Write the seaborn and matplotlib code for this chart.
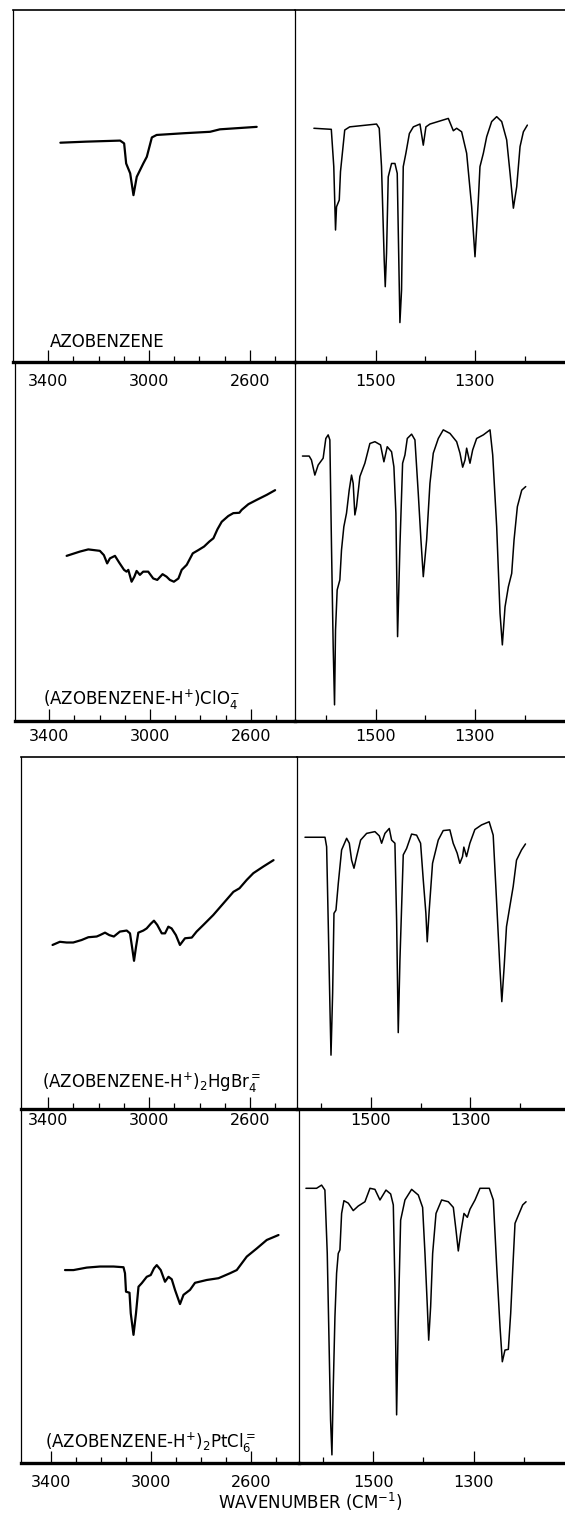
# IR spectra of azobenzene and its protonated salts (two spectral windows each)

import numpy as np
import pandas as pd
import matplotlib
matplotlib.use('Agg')
import matplotlib.pyplot as plt
import seaborn as sns

# ---------------- data (wavenumber, % transmittance) ----------------
names = ["AZOBENZENE",
         r"(AZOBENZENE-H$^{+}$)ClO$_{4}^{-}$",
         r"(AZOBENZENE-H$^{+}$)$_{2}$HgBr$_{4}^{=}$",
         r"(AZOBENZENE-H$^{+}$)$_{2}$PtCl$_{6}^{=}$"]

# panel 1 : azobenzene
azo_hi_wn = [3352, 3250, 3115, 3099, 3091, 3075, 3062, 3049, 3023, 3009, 2989, 2970, 2860, 2758, 2719, 2573]
azo_hi_t = [62.3, 62.6, 62.9, 62.1, 56.4, 53.6, 47.4, 52.6, 56.4, 58.3, 63.8, 64.5, 65.0, 65.4, 66.1, 66.8]
azo_lo_wn = [1624, 1589, 1584, 1580.5, 1578.5, 1573, 1570.5, 1562, 1552, 1498, 1492.6, 1488, 1482.6, 1480.5,
             1477.9, 1474.5, 1467.8, 1461, 1456.4, 1451, 1447.7, 1444.3, 1439, 1432, 1424, 1410.7, 1404,
             1398.7, 1390.6, 1353.7, 1343.6, 1336.9, 1326.9, 1316.8, 1306.7, 1300, 1293.3, 1290, 1283.2,
             1276.5, 1266.5, 1256.4, 1246.3, 1236.3, 1229.5, 1222.8, 1216.1, 1209.4, 1202.7, 1194.7]
azo_lo_t = [66.4, 66.1, 55.5, 37.5, 44.1, 46.0, 54.1, 65.9, 66.8, 67.6, 66.4, 55.5, 29.0, 21.4,
            30.9, 52.6, 56.4, 56.4, 53.6, 11.2, 20.5, 55.5, 59.3, 64.9, 66.8, 67.6, 61.6,
            66.8, 67.6, 69.2, 65.7, 66.4, 65.4, 59.3, 44.1, 29.9, 46.0, 55.5, 59.3,
            64.0, 68.3, 69.7, 68.3, 63.1, 53.6, 43.7, 49.8, 61.2, 65.4, 67.3]

# panel 2 : perchlorate
clo4_hi_wn = [3331, 3278, 3245, 3199, 3183, 3170, 3159, 3139, 3122, 3103, 3093, 3086, 3073, 3062, 3053,
              3040, 3027, 3007, 2987, 2971, 2950, 2934, 2921, 2905, 2887, 2874, 2854, 2830, 2808, 2785,
              2764, 2748, 2732, 2715, 2689, 2669, 2645, 2636, 2609, 2576, 2536, 2503]
clo4_hi_t = [46.0, 47.2, 47.8, 47.4, 46.2, 43.9, 45.3, 46.0, 44.1, 42.1, 41.6, 42.1, 38.8, 40.2, 41.8,
             40.7, 41.6, 41.6, 39.7, 39.3, 40.9, 40.2, 39.3, 38.8, 39.7, 42.1, 43.5, 46.7, 47.6, 48.6,
             50.0, 50.9, 53.4, 55.5, 57.1, 57.9, 58.0, 58.8, 60.4, 61.6, 63.0, 64.3]
clo4_lo_wn = [1647, 1633.5, 1628.9, 1622.1, 1615.4, 1605.4, 1600, 1595.3, 1591.9, 1588.6, 1585.2, 1582.5,
              1580.5, 1577.2, 1571.8, 1568.5, 1563.8, 1558.4, 1553, 1548.3, 1545, 1541.6, 1538.3, 1531.5,
              1521.5, 1511.4, 1501.3, 1490, 1483.2, 1476.5, 1467.8, 1463.1, 1459.1, 1455.7, 1451, 1445.6,
              1440.9, 1436.2, 1427.5, 1420.8, 1414.1, 1408.7, 1404, 1397.3, 1390.6, 1383.9, 1373.8, 1363.8,
              1350.3, 1336.9, 1330.2, 1324.8, 1320.1, 1316.8, 1310.1, 1304.7, 1296.7, 1283.2, 1269.8, 1264.4,
              1256.4, 1249.7, 1245, 1239.6, 1232.9, 1226.2, 1221.5, 1214.8, 1206, 1198]
clo4_lo_t = [73.8, 73.8, 72.7, 68.5, 71.3, 73.2, 78.7, 79.7, 78.3, 48.6, 20.7, 4.5,
             25.3, 36.5, 39.3, 47.6, 54.1, 57.9, 64.3, 68.5, 66.2, 57.4, 59.7, 68.1,
             71.8, 77.3, 77.8, 76.9, 72.2, 76.4, 75.0, 70.8, 57.9, 23.5, 48.6, 71.8,
             74.1, 78.7, 79.9, 78.3, 63.4, 50.4, 40.2, 50.4, 66.2, 74.6, 78.7, 81.1,
             80.1, 77.8, 74.6, 70.7, 72.7, 76.0, 71.8, 75.5, 78.7, 79.7, 81.1, 74.1,
             54.1, 30.0, 21.2, 31.8, 37.4, 41.1, 50.4, 59.7, 64.3, 65.3]

# panel 3 : tetrabromomercurate
hgbr_hi_wn = [3383, 3354, 3327, 3301, 3268, 3241, 3208, 3195, 3175, 3158, 3140, 3116, 3089, 3076, 3068,
              3060, 3052, 3043, 3023, 3010, 2994, 2981, 2968, 2950, 2937, 2924, 2911, 2894, 2878, 2858,
              2831, 2812, 2785, 2746, 2706, 2666, 2642, 2613, 2587, 2547, 2507]
hgbr_hi_t = [46.6, 47.5, 47.3, 47.3, 48.0, 48.8, 49.0, 49.4, 50.1, 49.4, 49.0, 50.4, 50.7, 49.9, 46.1,
             42.1, 46.1, 50.1, 50.7, 51.3, 52.6, 53.5, 52.3, 49.9, 49.9, 51.8, 51.3, 49.4, 46.6, 48.5,
             48.7, 50.4, 52.3, 55.1, 58.4, 61.7, 62.7, 65.1, 67.0, 68.9, 70.7]
hgbr_lo_wn = [1632.9, 1592.6, 1589.3, 1585.9, 1582.5, 1580.5, 1577.2, 1574.5, 1570.5, 1565.8, 1559.1, 1549,
              1543.6, 1539, 1534.2, 1528.9, 1520.8, 1508.7, 1492, 1483.2, 1478.5, 1471.8, 1463.1, 1458.4,
              1451.7, 1448.3, 1445, 1441.6, 1434.9, 1428.2, 1418.1, 1408, 1400, 1394.6, 1389.3, 1386.6,
              1382.6, 1375.9, 1364.4, 1354.4, 1341, 1334.3, 1326.3, 1320.9, 1315.5, 1312.8, 1307.4, 1300.7,
              1290.6, 1277.2, 1261.8, 1253.7, 1247, 1240.3, 1236.3, 1231.6, 1226.9, 1220.2, 1213.4, 1206.7,
              1196.6, 1188.6]
hgbr_lo_t = [77.2, 77.2, 74.5, 51.8, 28.1, 15.3, 32.9, 55.6, 56.5, 64.1, 73.6, 76.9,
             75.5, 70.7, 68.4, 71.7, 76.4, 78.3, 78.8, 77.6, 75.5, 78.3, 79.7, 76.4,
             75.5, 53.7, 21.7, 42.3, 72.2, 74.0, 78.1, 77.8, 75.5, 65.1, 55.6, 47.5,
             56.5, 69.8, 76.4, 79.1, 79.3, 75.5, 72.7, 69.8, 71.7, 74.4, 71.7, 75.5,
             79.4, 80.7, 81.6, 77.8, 59.4, 40.4, 30.5, 40.4, 51.8, 57.5, 63.2, 70.7,
             73.6, 75.3]

# panel 4 : hexachloroplatinate
ptcl_hi_wn = [3343, 3309, 3256, 3203, 3149, 3109, 3103, 3099, 3085, 3080, 3069, 3059, 3049, 3036, 3016,
              3000, 2987, 2976, 2960, 2943, 2929, 2916, 2903, 2883, 2869, 2843, 2823, 2776, 2729, 2683,
              2656, 2616, 2576, 2536, 2489]
ptcl_hi_t = [54.5, 54.5, 55.2, 55.5, 55.5, 55.3, 53.6, 48.4, 48.1, 42.3, 36.2, 42.3, 49.8, 50.8, 52.6,
             53.1, 55.0, 55.9, 54.5, 51.2, 52.6, 51.9, 48.9, 44.9, 47.5, 48.9, 50.9, 51.7, 52.2, 53.6,
             54.5, 58.3, 60.6, 63.0, 64.4]
ptcl_lo_wn = [1634.2, 1613, 1603, 1596.4, 1591.7, 1587.7, 1585.1, 1582.4, 1579.7, 1576.4, 1573.1, 1569.8,
              1566.5, 1563.1, 1558.5, 1549.8, 1539.9, 1529.9, 1516.6, 1506.6, 1496.7, 1486.7, 1474.7, 1465.4,
              1460.1, 1456.8, 1453.5, 1450.2, 1445.5, 1436.9, 1423.6, 1410.3, 1401.7, 1397, 1392.3, 1389.6,
              1385.7, 1381.7, 1375, 1363.8, 1350.5, 1340.5, 1335.2, 1330.6, 1325.9, 1319.3, 1312.6, 1307.3,
              1297.3, 1287.4, 1268.8, 1260.8, 1254.1, 1247.5, 1242.9, 1237.6, 1230.9, 1226.2, 1222.2, 1217.6,
              1210.9, 1202.3, 1195.6]
ptcl_lo_t = [77.6, 77.6, 78.5, 77.1, 59.2, 31.0, 12.1, 2.3, 21.6, 41.3, 53.6, 59.2,
             60.2, 70.5, 74.1, 73.4, 71.3, 72.6, 73.8, 77.6, 77.3, 74.3, 77.1, 76.0,
             72.9, 49.8, 13.6, 40.4, 68.6, 74.3, 77.3, 75.7, 72.2, 59.2, 44.2, 34.7,
             44.2, 59.2, 70.5, 74.3, 73.8, 72.2, 65.8, 59.9, 64.9, 70.5, 69.4, 71.7,
             74.3, 77.6, 77.6, 74.3, 55.5, 38.5, 28.6, 31.9, 32.1, 42.3, 54.5, 67.7,
             70.0, 72.9, 73.8]

hi_major = [3400, 3000, 2600]
hi_minor = [3300, 3200, 3100, 2900, 2800, 2700, 2500]
lo_major = [1500, 1300]
lo_minor = [1600, 1400, 1200]

spectra = [(azo_hi_wn, azo_hi_t, azo_lo_wn, azo_lo_t),
           (clo4_hi_wn, clo4_hi_t, clo4_lo_wn, clo4_lo_t),
           (hgbr_hi_wn, hgbr_hi_t, hgbr_lo_wn, hgbr_lo_t),
           (ptcl_hi_wn, ptcl_hi_t, ptcl_lo_wn, ptcl_lo_t)]

# ---------------- layout (pixel positions of the scanned frames) ----------------
W, H = 565, 1513
layout = [
    dict(top=10, bot=362, left=13, mid=295, lx=(3540, 2421), rx=(1662, 1119), frame=True, pad=12,
         lab=(0.131, 0.043)),
    dict(top=362, bot=721, left=15, mid=295, lx=(3536, 2424), rx=(1662, 1119), frame=False, pad=8,
         lab=(0.10, 0.045)),
    dict(top=757, bot=1109, left=21, mid=297, lx=(3508, 2414), rx=(1649, 1109), frame=True, pad=4,
         lab=(0.076, 0.06)),
    dict(top=1109, bot=1463, left=21, mid=299, lx=(3519, 2407), rx=(1648, 1118), frame=False, pad=12,
         lab=(0.086, 0.042)),
]

sns.set_theme(style='white')
plt.rcParams['font.family'] = ['DejaVu Sans']
plt.rcParams['mathtext.fontset'] = 'dejavusans'

fig = plt.figure(figsize=(W / 100, H / 100), dpi=100)


def box(x0, x1, ytop, ybot):
    return [x0 / W, 1 - ybot / H, (x1 - x0) / W, (ybot - ytop) / H]


def style_axis(ax, xlim, major, minor, pad, frame, left_spine, right_spine):
    ax.set_xlim(*xlim)
    ax.set_ylim(0, 100)
    ax.set_yticks([])
    ax.set_xticks(major)
    ax.set_xticks(minor, minor=True)
    ax.set_xticklabels([str(v) for v in major], fontsize=11.5, color='black')
    ax.tick_params(axis='x', which='both', direction='in', color='black', width=0.9, bottom=True)
    ax.tick_params(axis='x', which='major', length=8.5, pad=pad / 1.39)
    ax.tick_params(axis='x', which='minor', length=4.0)
    ax.set_xlabel('')
    ax.set_ylabel('')
    ax.patch.set_alpha(0)
    for s in ax.spines.values():
        s.set_color('black')
    ax.spines['bottom'].set_linewidth(2.4)
    ax.spines['top'].set_visible(frame)
    ax.spines['top'].set_linewidth(1.2)
    ax.spines['left'].set_visible(left_spine)
    ax.spines['left'].set_linewidth(0.9)
    ax.spines['right'].set_visible(right_spine)
    ax.spines['right'].set_linewidth(0.9)


for i, (cfg, (hw, ht, lw_, lt)) in enumerate(zip(layout, spectra)):
    ax_hi = fig.add_axes(box(cfg['left'], cfg['mid'], cfg['top'], cfg['bot']))
    ax_lo = fig.add_axes(box(cfg['mid'], W, cfg['top'], cfg['bot']))

    df_hi = pd.DataFrame({'wn': hw, 't': ht})
    df_lo = pd.DataFrame({'wn': lw_, 't': lt})
    sns.lineplot(data=df_hi, x='wn', y='t', ax=ax_hi, color='black', lw=1.6,
                 estimator=None, sort=False)
    sns.lineplot(data=df_lo, x='wn', y='t', ax=ax_lo, color='black', lw=1.1,
                 estimator=None, sort=False)

    style_axis(ax_hi, cfg['lx'], hi_major, hi_minor, cfg['pad'], cfg['frame'], True, True)
    style_axis(ax_lo, cfg['rx'], lo_major, lo_minor, cfg['pad'], cfg['frame'], False, False)

    ax_hi.text(cfg['lab'][0], cfg['lab'][1], names[i], transform=ax_hi.transAxes,
               fontsize=12, ha='left', va='baseline', color='black')

fig.text(310 / W, 1 - 1509 / H, r"WAVENUMBER (CM$^{-1}$)", fontsize=12,
         ha='center', va='baseline', color='black')

fig.savefig('out.png', dpi=100, facecolor='white')
